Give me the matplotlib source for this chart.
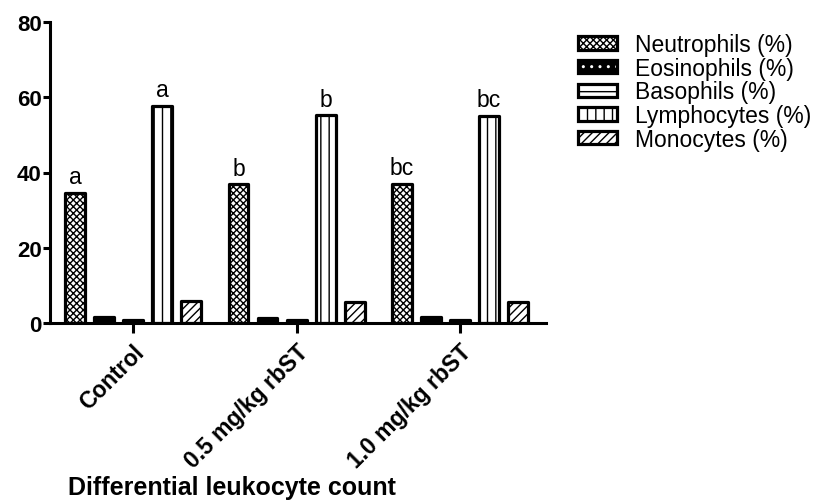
import numpy as np
import matplotlib
matplotlib.use("Agg")
import matplotlib.pyplot as plt

plt.rcParams['font.family'] = ['Liberation Sans', 'DejaVu Sans']
plt.rcParams['hatch.linewidth'] = 1.0

# Treatment groups and leukocyte percentages
groups = ["Control", "0.5 mg/kg rbST", "1.0 mg/kg rbST"]
cell_types = ["Neutrophils (%)", "Eosinophils (%)", "Basophils (%)",
              "Lymphocytes (%)", "Monocytes (%)"]
neutrophils = [34.6, 36.9, 37.0]
eosinophils = [1.5, 1.4, 1.5]
basophils = [0.7, 0.7, 0.8]
lymphocytes = [57.7, 55.2, 55.1]
monocytes = [5.9, 5.7, 5.7]
neutro_letters = ["a", "b", "bc"]
lympho_letters = ["a", "b", "bc"]

series = [neutrophils, eosinophils, basophils, lymphocytes, monocytes]
hatches = ["xxxxx", "..", "-", "||", "////"]

fig = plt.figure(figsize=(8.26, 5.02), dpi=100)
ax = fig.add_axes([50 / 826, 1 - 324 / 502, 496 / 826, 301 / 502])

x = np.arange(len(groups))
pitch = 0.1774
width = 0.122
lw = 2.3

handles = []
for i, (vals, hatch) in enumerate(zip(series, hatches)):
    pos = x + (i - 2) * pitch
    if i == 1:
        # black body with white dots, outline drawn on top
        fill = ax.bar(pos, vals, width, color="black", edgecolor="white",
                      hatch=hatch, linewidth=0, zorder=2)
        edge = ax.bar(pos, vals, width, fill=False, edgecolor="black",
                      linewidth=lw, joinstyle="round", zorder=3)
        handles.append((fill[0], edge[0]))
    else:
        b = ax.bar(pos, vals, width, color="white", edgecolor="black",
                   hatch=hatch, linewidth=lw, joinstyle="round", zorder=2)
        handles.append(b[0])

# significance letters over neutrophil and lymphocyte bars
for xi, v, t in zip(x - 2 * pitch, neutrophils, neutro_letters):
    ax.text(xi, v + 1.2, t, ha="center", va="bottom", fontsize=16.5)
for xi, v, t in zip(x + pitch, lymphocytes, lympho_letters):
    ax.text(xi, v + 1.2, t, ha="center", va="bottom", fontsize=16.5)

ax.set_xlim(-0.508, 2.526)
ax.set_ylim(0, 80)
ax.set_yticks([0, 20, 40, 60, 80])
ax.set_xticks(x)
ax.set_xticklabels(groups, rotation=45, ha="right", rotation_mode="anchor",
                   fontsize=16.5, fontweight="bold")
for lab in ax.get_yticklabels():
    lab.set_fontsize(16)
    lab.set_fontweight("bold")

for side in ["top", "right"]:
    ax.spines[side].set_visible(False)
for side in ["left", "bottom"]:
    ax.spines[side].set_linewidth(2.2)
ax.tick_params(axis="y", length=5, width=2.2, pad=1)
ax.tick_params(axis="x", length=7, width=2.2, pad=5)

fig.text(232 / 826, 1 - 488 / 502, "Differential leukocyte count",
         ha="center", va="center", fontsize=18, fontweight="bold")

ax.legend(handles, cell_types, loc="upper left", frameon=False,
          bbox_to_anchor=(578 / 826, 1 - 34 / 502),
          bbox_transform=fig.transFigure, fontsize=16.5, borderpad=0,
          borderaxespad=0, handlelength=1.7, handleheight=0.52,
          labelspacing=0.03, handletextpad=0.8)

fig.savefig("out.png", dpi=100)
